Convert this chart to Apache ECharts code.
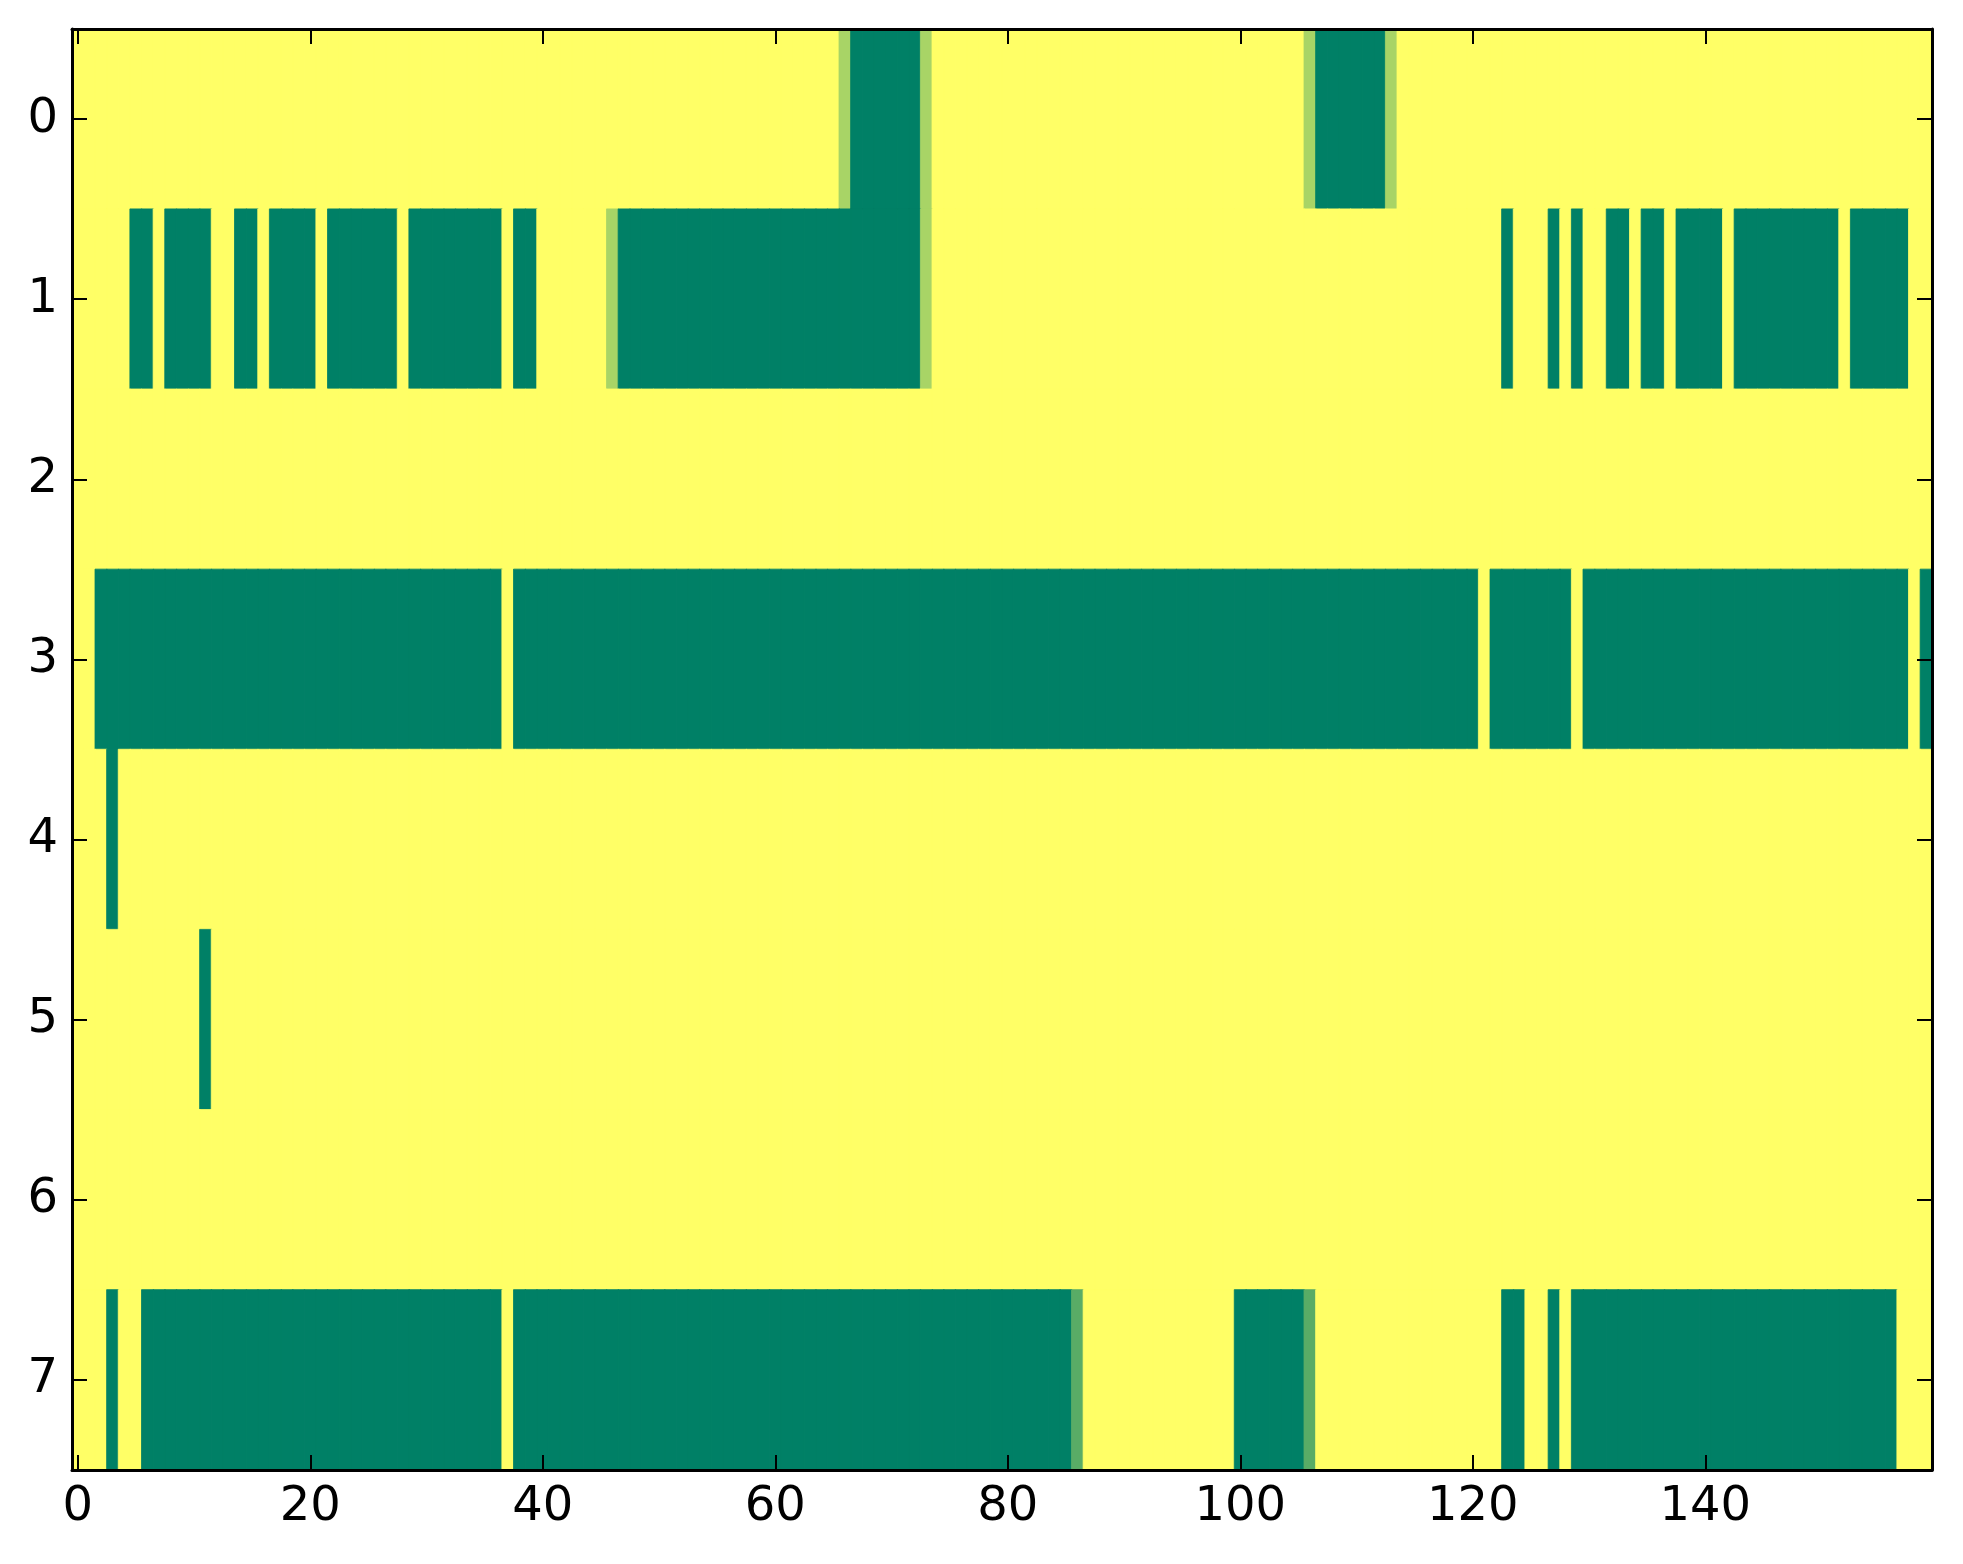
<!DOCTYPE html>
<html>
<head>
<meta charset="utf-8">
<title>heatmap</title>
<script src="https://cdn.jsdelivr.net/npm/echarts/dist/echarts.min.js"></script>
<style>
  html, body { margin: 0; padding: 0; background: #fff; }
  #container { width: 1963px; height: 1564px; }
</style>
</head>
<body>
<div id="container"></div>
<script>
// 列数 / 行数
var nCols = 160;
var rowLabels = ['0', '1', '2', '3', '4', '5', '6', '7'];
var xTickLabels = ['0', '20', '40', '60', '80', '100', '120', '140'];

// 底色是 1（黄），下面按 [起, 止, 值] 列出偏离 1 的格子
var D = 0;      // 深绿
var L = 0.66;   // 浅绿
var M = 0.35;   // 中绿
var row0 = [[66, 66, L], [67, 72, D], [73, 73, L], [106, 106, L], [107, 112, D], [113, 113, L]];
var row1 = [[5, 6, D], [8, 11, D], [14, 15, D], [17, 20, D], [22, 27, D], [29, 36, D], [38, 39, D],
            [46, 46, L], [47, 72, D], [73, 73, L],
            [123, 123, D], [127, 127, D], [129, 129, D], [132, 133, D], [135, 136, D],
            [138, 141, D], [143, 151, D], [153, 157, D]];
var row2 = [];
var row3 = [[2, 36, D], [38, 120, D], [122, 128, D], [130, 157, D], [159, 159, D]];
var row4 = [[3, 3, D]];
var row5 = [[11, 11, D]];
var row6 = [];
var row7 = [[3, 3, D], [6, 36, D], [38, 85, D], [86, 86, M], [100, 105, D], [106, 106, M],
            [123, 124, D], [127, 127, D], [129, 156, D]];
var rows = [row0, row1, row2, row3, row4, row5, row6, row7];

// summer 色图两端
var cmap = ['#008066', '#ffff66'];

var xCats = [];
for (var i = 0; i < nCols; i++) xCats.push(String(i));

// 展开成 heatmap 数据，边框同色以消除格子间的缝
var data = [];
for (var r = 0; r < rows.length; r++) {
    var vals = [];
    for (var c = 0; c < nCols; c++) vals.push(1);
    rows[r].forEach(function (seg) {
        for (var c = seg[0]; c <= seg[1]; c++) vals[c] = seg[2];
    });
    for (var c = 0; c < nCols; c++) {
        var col = echarts.color.lerp(vals[c], cmap, false);
        data.push({
            value: [c, r, vals[c]],
            itemStyle: { color: col, borderColor: col, borderWidth: 0.8 }
        });
    }
}

function isXTick(idx) {
    return xTickLabels.indexOf(String(idx)) >= 0;
}

var chart = echarts.init(document.getElementById('container'));
var font = 'DejaVu Sans';
var lineStyle = { color: '#000', width: 3 };
var tickStyle = { color: '#000', width: 2 };

function xTick() {
    return { show: true, inside: true, length: 15, alignWithLabel: true, interval: isXTick, lineStyle: tickStyle };
}
function yTick() {
    return { show: true, inside: true, length: 15, alignWithLabel: true, interval: 0, lineStyle: tickStyle };
}

var option = {
    animation: false,
    backgroundColor: '#fff',
    grid: { left: 72, right: 31, top: 29, bottom: 94 },
    xAxis: [
        {
            type: 'category',
            data: xCats,
            position: 'bottom',
            z: 10,
            axisLine: { show: true, lineStyle: lineStyle },
            axisTick: xTick(),
            axisLabel: { interval: isXTick, color: '#000', fontFamily: font, fontSize: 48, margin: 14 },
            splitLine: { show: false }
        },
        {
            type: 'category',
            data: xCats,
            position: 'top',
            z: 10,
            axisLine: { show: true, lineStyle: lineStyle },
            axisTick: xTick(),
            axisLabel: { show: false },
            splitLine: { show: false }
        }
    ],
    yAxis: [
        {
            type: 'category',
            data: rowLabels,
            inverse: true,
            position: 'left',
            z: 10,
            axisLine: { show: true, lineStyle: lineStyle },
            axisTick: yTick(),
            axisLabel: { color: '#000', fontFamily: font, fontSize: 48, margin: 14 },
            splitLine: { show: false }
        },
        {
            type: 'category',
            data: rowLabels,
            inverse: true,
            position: 'right',
            z: 10,
            axisLine: { show: true, lineStyle: lineStyle },
            axisTick: yTick(),
            axisLabel: { show: false },
            splitLine: { show: false }
        }
    ],
    series: [{
        type: 'heatmap',
        xAxisIndex: 0,
        yAxisIndex: 0,
        z: 1,
        data: data,
        emphasis: { disabled: true }
    }]
};
chart.setOption(option);
</script>
</body>
</html>
